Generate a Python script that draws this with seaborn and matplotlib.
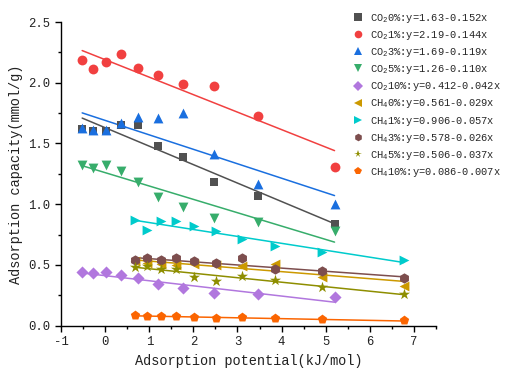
import numpy as np
import pandas as pd
import matplotlib
matplotlib.use("Agg")
import matplotlib.pyplot as plt
from matplotlib.ticker import MultipleLocator
from matplotlib.lines import Line2D
import seaborn as sns

# Adsorption potential (kJ/mol) at each measurement point
x_co2 = [-0.52, -0.27, 0.03, 0.36, 0.75, 1.20, 1.76, 2.46, 3.47, 5.20]
x_ch4 = [0.67, 0.95, 1.26, 1.61, 2.02, 2.51, 3.10, 3.85, 4.92, 6.77]

# Adsorption capacity (mmol/g) for each gas / concentration
co2_0 = [1.62, 1.60, 1.60, 1.65, 1.65, 1.48, 1.39, 1.18, 1.07, 0.84]
co2_1 = [2.19, 2.11, 2.17, 2.24, 2.12, 2.06, 1.99, 1.97, 1.73, 1.31]
co2_3 = [1.63, 1.61, 1.61, 1.67, 1.72, 1.71, 1.75, 1.41, 1.17, 1.00]
co2_5 = [1.32, 1.30, 1.32, 1.27, 1.18, 1.06, 0.98, 0.89, 0.85, 0.78]
co2_10 = [0.44, 0.43, 0.44, 0.42, 0.39, 0.34, 0.31, 0.27, 0.26, 0.24]
ch4_0 = [0.53, 0.52, 0.51, 0.50, 0.51, 0.50, 0.49, 0.51, 0.40, 0.33]
ch4_1 = [0.87, 0.79, 0.86, 0.86, 0.82, 0.78, 0.71, 0.66, 0.61, 0.54]
ch4_3 = [0.54, 0.56, 0.54, 0.56, 0.53, 0.52, 0.56, 0.47, 0.45, 0.39]
ch4_5 = [0.48, 0.49, 0.47, 0.47, 0.40, 0.37, 0.41, 0.38, 0.32, 0.26]
ch4_10 = [0.088, 0.082, 0.080, 0.080, 0.069, 0.066, 0.069, 0.063, 0.053, 0.044]

# Series names and linear fits y = a - b x
series = ["CO$_2$0%", "CO$_2$1%", "CO$_2$3%", "CO$_2$5%", "CO$_2$10%",
          "CH$_4$0%", "CH$_4$1%", "CH$_4$3%", "CH$_4$5%", "CH$_4$10%"]
intercepts = [1.63, 2.19, 1.69, 1.26, 0.412, 0.561, 0.906, 0.578, 0.506, 0.086]
slopes = [0.152, 0.144, 0.119, 0.110, 0.042, 0.029, 0.057, 0.026, 0.037, 0.007]

values = [co2_0, co2_1, co2_3, co2_5, co2_10, ch4_0, ch4_1, ch4_3, ch4_5, ch4_10]
xs = [x_co2] * 5 + [x_ch4] * 5

colors = ["#515151", "#F14040", "#1A6FDF", "#37AD6B", "#B177DE",
          "#CC9900", "#00CBCC", "#7D4E4E", "#8E8E00", "#FB6501"]
marker_list = ["s", "o", "^", "v", "D", "<", ">", "h", "*", "p"]
marker_sizes = [36, 50, 50, 50, 38, 50, 50, 55, 70, 50]

sns.set_theme(style="ticks")
plt.rcParams["font.family"] = ["Liberation Mono", "DejaVu Sans"]
plt.rcParams["mathtext.default"] = "regular"
plt.rcParams["axes.unicode_minus"] = False

frames = []
for name, xv, yv in zip(series, xs, values):
    frames.append(pd.DataFrame({"series": name, "x": xv, "y": yv}))
df = pd.concat(frames, ignore_index=True)

fig = plt.figure(figsize=(5.05, 3.71), dpi=100)
ax = fig.add_axes([0.1208, 0.1221, 0.7426, 0.8186])

# Fitted lines over each series' data range
for name, xv, a, b, c in zip(series, xs, intercepts, slopes, colors):
    xl = np.array([min(xv), max(xv)])
    sns.lineplot(x=xl, y=a - b * xl, color=c, lw=1.1, ax=ax, zorder=1)

# Measured points
for name, m, s, c in zip(series, marker_list, marker_sizes, colors):
    sub = df[df["series"] == name]
    sns.scatterplot(data=sub, x="x", y="y", color=c, marker=m, s=s,
                    linewidth=0, ax=ax, zorder=2)

ax.set_xlim(-1, 7.5)
ax.set_ylim(0, 2.5)
ax.xaxis.set_major_locator(MultipleLocator(1))
ax.xaxis.set_minor_locator(MultipleLocator(0.5))
ax.yaxis.set_major_locator(MultipleLocator(0.5))
ax.yaxis.set_minor_locator(MultipleLocator(0.25))
ax.yaxis.set_major_formatter(matplotlib.ticker.FormatStrFormatter("%.1f"))
ax.tick_params(which="major", direction="out", length=4, width=1,
               labelsize=8.8, color="black", labelcolor="#222222")
ax.tick_params(which="minor", direction="out", length=2.5, width=1,
               color="black")
for side in ["top", "right"]:
    ax.spines[side].set_visible(False)
for side in ["left", "bottom"]:
    ax.spines[side].set_color("black")
    ax.spines[side].set_linewidth(1)

ax.set_xlabel("Adsorption potential(kJ/mol)", fontsize=9.8, color="#222222")
ax.set_ylabel("Adsorption capacity(mmol/g)", fontsize=9.8, color="#222222")

labels = [f"{n}:y={a:g}-{b:.3f}x" for n, a, b in zip(series, intercepts, slopes)]
handles = [Line2D([], [], ls="none", marker=m, color=c, markersize=5.5,
                  markeredgewidth=0)
           for m, c in zip(marker_list, colors)]
fig.legend(handles, labels, loc="upper left", bbox_to_anchor=(0.688, 0.98),
           frameon=False, fontsize=7.5, handletextpad=0.6, labelspacing=0.4,
           handlelength=1.2, borderaxespad=0)

fig.savefig("out.png", dpi=100)
